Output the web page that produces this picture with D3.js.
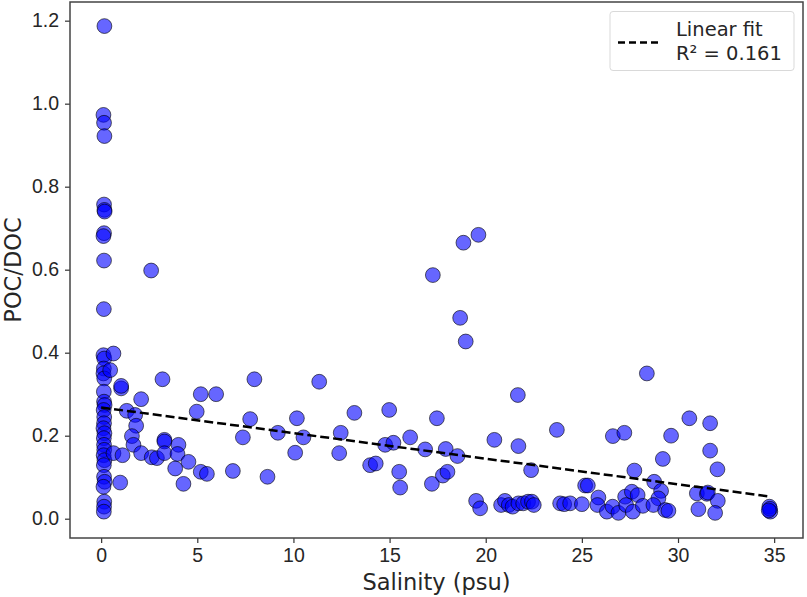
<!DOCTYPE html>
<html>
<head>
  <meta charset="utf-8">
  <script src="https://d3js.org/d3.v7.min.js"></script>
  <style>
    body { margin: 0; background: #fff; }
    svg { font-family: "DejaVu Sans", sans-serif; }
    .tick text { font-size: 19.5px; fill: #262626; }
    .axis-label { font-size: 22.5px; fill: #262626; }
    .legend text { font-size: 19.5px; fill: #262626; }
  </style>
</head>
<body>
  <div id="chart"></div>
  <script>
    // salinity (psu) and POC/DOC ratio
    const salinity = [
      0.17, 0.12, 0.15, 0.17, 0.15, 0.17, 0.18, 0.15, 0.12, 0.15, 0.14, 0.12,
      0.16, 0.14, 0.12, 0.16, 0.14, 0.15, 0.18, 0.13, 0.16, 0.15, 0.12, 0.17,
      0.14, 0.15, 0.16, 0.13, 0.17, 0.14, 0.15, 0.18, 0.12, 0.16, 0.15, 0.14,
      0.64, 0.47, 1.04, 1.04, 0.64, 1.11, 0.99,
      2.6, 3.19, 2.08, 1.33, 1.77, 1.82, 1.6, 1.68, 2.08, 2.63, 2.9,
      3.29, 3.29, 3.29, 4.02, 3.97, 4.54, 3.85, 4.28, 5.18, 5.5, 5.18, 5.98,
      4.97, 7.97, 7.75, 7.37, 6.85, 8.65, 9.19, 10.18, 10.52, 10.09,
      11.34, 13.17, 14.98, 12.46, 12.38, 13.99, 14.28, 14.77, 15.2, 16.07,
      15.5, 15.55, 17.46, 16.85, 17.92, 18.53, 17.2, 17.77, 18.01,
      17.25, 18.67, 18.84, 19.62, 18.96,
      20.45, 21.67, 21.7, 22.36, 19.5, 19.71,
      20.8, 21.0, 21.2, 21.4, 21.7, 21.95, 22.2, 22.4, 22.5,
      28.38, 23.7, 26.61, 27.21, 29.64, 30.59, 31.67, 31.67, 32.05, 29.21,
      27.73, 28.76, 29.12, 28.98, 30.98, 31.5, 31.55, 32.07, 31.06, 31.93,
      25.17, 25.31, 23.87, 24.08, 24.39, 25.0, 25.86, 25.81,
      26.3, 26.6, 26.9, 27.25, 27.3, 27.6, 27.9, 27.65, 28.17, 28.72,
      29.33, 29.5, 34.75, 34.8, 34.78, 34.72
    ];
    const pocDoc = [
      1.187, 0.973, 0.954, 0.922, 0.757, 0.744, 0.740, 0.688, 0.681, 0.622, 0.505, 0.394,
      0.386, 0.362, 0.350, 0.338, 0.306, 0.282, 0.274, 0.262, 0.245, 0.230, 0.218, 0.206,
      0.194, 0.178, 0.166, 0.153, 0.141, 0.129, 0.101, 0.089, 0.077, 0.041, 0.029, 0.017,
      0.398, 0.358, 0.314, 0.320, 0.158, 0.153, 0.087,
      0.598, 0.336, 0.288, 0.260, 0.250, 0.224, 0.199, 0.178, 0.158, 0.148, 0.146,
      0.190, 0.186, 0.158, 0.178, 0.156, 0.137, 0.121, 0.084, 0.113, 0.108, 0.300, 0.300,
      0.258, 0.336, 0.240, 0.196, 0.115, 0.101, 0.207, 0.242, 0.196, 0.159,
      0.330, 0.255, 0.262, 0.207, 0.158, 0.129, 0.133, 0.178, 0.183, 0.196,
      0.113, 0.075, 0.242, 0.167, 0.168, 0.151, 0.084, 0.104, 0.113,
      0.587, 0.484, 0.665, 0.684, 0.427,
      0.190, 0.298, 0.175, 0.117, 0.043, 0.025,
      0.033, 0.043, 0.033, 0.029, 0.037, 0.037, 0.041, 0.041, 0.033,
      0.350, 0.214, 0.199, 0.207, 0.200, 0.242, 0.230, 0.164, 0.119, 0.144,
      0.116, 0.089, 0.067, 0.049, 0.061, 0.060, 0.063, 0.043, 0.023, 0.014,
      0.080, 0.080, 0.037, 0.035, 0.037, 0.035, 0.051, 0.033,
      0.017, 0.029, 0.014, 0.053, 0.033, 0.065, 0.057, 0.017, 0.031, 0.033,
      0.021, 0.019, 0.029, 0.017, 0.024, 0.020
    ];

    // linear fit
    const fitIntercept = 0.268;
    const fitSlope = -0.00617;
    const fitRange = [0.0, 34.8];
    const rSquared = 0.161;

    const xTicks = [0, 5, 10, 15, 20, 25, 30, 35];
    const yTicks = [0.0, 0.2, 0.4, 0.6, 0.8, 1.0, 1.2];

    const width = 807, height = 597;
    const margin = { top: 2, right: 4, bottom: 59, left: 70 };

    const data = salinity.map((s, i) => ({ s: s, r: pocDoc[i] }));

    const svg = d3.select("#chart")
      .append("svg")
      .attr("width", width)
      .attr("height", height);

    const x = d3.scaleLinear()
      .domain([-1.62, 36.5])
      .range([margin.left, width - margin.right]);

    const y = d3.scaleLinear()
      .domain([-0.0465, 1.245])
      .range([height - margin.bottom, margin.top]);

    // points
    svg.append("g")
      .selectAll("circle")
      .data(data)
      .join("circle")
      .attr("cx", d => x(d.s))
      .attr("cy", d => y(d.r))
      .attr("r", 7.4)
      .attr("fill", "blue")
      .attr("fill-opacity", 0.6)
      .attr("stroke", "black")
      .attr("stroke-opacity", 0.6)
      .attr("stroke-width", 1);

    // fit line
    const fitLine = fitRange.map(s => ({ s: s, r: fitIntercept + fitSlope * s }));
    svg.append("path")
      .datum(fitLine)
      .attr("d", d3.line().x(d => x(d.s)).y(d => y(d.r)))
      .attr("fill", "none")
      .attr("stroke", "black")
      .attr("stroke-width", 2.5)
      .attr("stroke-dasharray", "9,4");

    // axes
    const xAxis = svg.append("g")
      .attr("transform", `translate(0,${height - margin.bottom})`)
      .call(d3.axisBottom(x).tickValues(xTicks).tickFormat(d3.format("d")).tickSize(5).tickSizeOuter(0).tickPadding(5));

    const yAxis = svg.append("g")
      .attr("transform", `translate(${margin.left},0)`)
      .call(d3.axisLeft(y).tickValues(yTicks).tickFormat(d3.format(".1f")).tickSize(5).tickSizeOuter(0).tickPadding(6));

    [xAxis, yAxis].forEach(a => {
      a.select(".domain").remove();
      a.selectAll(".tick line").attr("stroke", "#333").attr("stroke-width", 1.2);
    });

    // frame
    svg.append("rect")
      .attr("x", margin.left)
      .attr("y", margin.top)
      .attr("width", width - margin.left - margin.right)
      .attr("height", height - margin.top - margin.bottom)
      .attr("fill", "none")
      .attr("stroke", "#444")
      .attr("stroke-width", 1.5);

    // axis labels
    svg.append("text")
      .attr("class", "axis-label")
      .attr("text-anchor", "middle")
      .attr("x", (margin.left + width - margin.right) / 2)
      .attr("y", 590)
      .text("Salinity (psu)");

    svg.append("text")
      .attr("class", "axis-label")
      .attr("text-anchor", "middle")
      .attr("transform", `translate(21,${(margin.top + height - margin.bottom) / 2}) rotate(-90)`)
      .text("POC/DOC");

    // legend
    const legend = svg.append("g").attr("class", "legend");
    legend.append("rect")
      .attr("x", 610)
      .attr("y", 11.5)
      .attr("width", 184)
      .attr("height", 59)
      .attr("rx", 3)
      .attr("fill", "white")
      .attr("fill-opacity", 0.8)
      .attr("stroke", "#d9d9d9")
      .attr("stroke-width", 1);
    legend.append("line")
      .attr("x1", 618).attr("x2", 660)
      .attr("y1", 42.5).attr("y2", 42.5)
      .attr("stroke", "black")
      .attr("stroke-width", 2.5)
      .attr("stroke-dasharray", "7,4");
    legend.append("text")
      .attr("x", 676).attr("y", 35.5)
      .text("Linear fit");
    legend.append("text")
      .attr("x", 676).attr("y", 59.5)
      .text(`R² = ${rSquared.toFixed(3)}`);
  </script>
</body>
</html>
